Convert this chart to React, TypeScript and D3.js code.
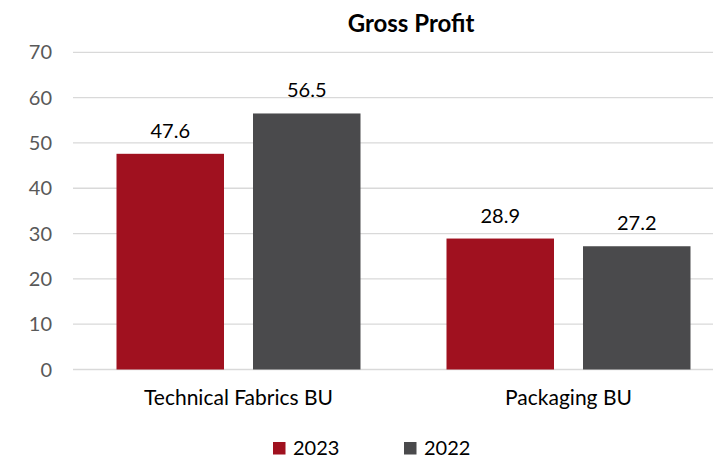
import React from "react";
import * as d3 from "d3";

const categories = ["Technical Fabrics BU", "Packaging BU"];
const seriesNames = ["2023", "2022"];
const values2023 = [47.6, 28.9];
const values2022 = [56.5, 27.2];
const yTicks = [0, 10, 20, 30, 40, 50, 60, 70];
const colors = ["#A0111F", "#4A4A4C"];

const W = 713;
const H = 458;
const FONT = "Lato, 'Open Sans', sans-serif";

export default function App() {
  const x0 = d3.scaleBand<string>().domain(categories).range([73.5, 733.5]).padding(0);
  const x1 = d3
    .scaleBand<string>()
    .domain(seriesNames)
    .range([43, 287])
    .paddingInner(0.2125)
    .paddingOuter(0);
  const y = d3.scaleLinear().domain([0, 70]).range([369.5, 52.3]);
  const seriesValues = [values2023, values2022];

  return (
    <svg
      width={W}
      height={H}
      style={{ position: "absolute", left: 0, top: 0, background: "#fff" }}
      fontFamily={FONT}
    >
      <rect x={0} y={0} width={W} height={H} fill="#fff" />
      <text x={411} y={32} textAnchor="middle" fontSize={24} fontWeight="bold" fill="#000">
        Gross Profit
      </text>
      {yTicks.map((t) => (
        <g key={t}>
          <line x1={73} x2={W} y1={y(t)} y2={y(t)} stroke="#d9d9d9" strokeWidth={1.3} />
          <text
            x={52}
            y={y(t)}
            dy="0.35em"
            textAnchor="end"
            fontSize={20}
            fill="#595959"
          >
            {t}
          </text>
        </g>
      ))}
      {categories.map((c, ci) => (
        <g key={c} transform={`translate(${x0(c)},0)`}>
          {seriesNames.map((s, si) => {
            const v = seriesValues[si][ci];
            const bx = x1(s)!;
            const bw = x1.bandwidth();
            return (
              <g key={s}>
                <rect
                  x={bx}
                  y={y(v)}
                  width={bw}
                  height={y(0) - y(v)}
                  fill={colors[si]}
                />
                <text
                  x={bx + bw / 2}
                  y={y(v) - 16}
                  textAnchor="middle"
                  fontSize={20}
                  fill="#000"
                >
                  {v.toFixed(1)}
                </text>
              </g>
            );
          })}
          <text
            x={x0.bandwidth() / 2}
            y={405}
            textAnchor="middle"
            fontSize={21}
            fill="#000"
          >
            {c}
          </text>
        </g>
      ))}
      {seriesNames.map((s, si) => (
        <g key={s} transform={`translate(${273 + si * 131},0)`}>
          <rect x={0} y={442} width={12.5} height={12.5} fill={colors[si]} />
          <text x={20} y={455} fontSize={20} fill="#000">
            {s}
          </text>
        </g>
      ))}
    </svg>
  );
}
